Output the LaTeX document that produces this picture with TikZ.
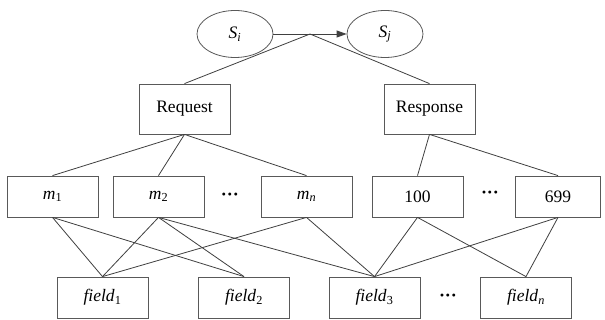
\documentclass[tikz,border=0pt]{standalone}
\usepackage{fontspec}
\setmainfont{Liberation Serif}
\newfontfamily\tnr{Liberation Serif}
\usetikzlibrary{shapes.geometric,arrows.meta}
\begin{document}
\begin{tikzpicture}[x=1pt,y=-1pt,
  line/.style={draw=black!75,line width=0.8pt},
  txt/.style={font=\tnr\fontsize{17.5}{19}\selectfont},
  box/.style={txt,draw=black!65,line width=0.8pt,rectangle,minimum width=91pt,minimum height=41pt,inner sep=0pt},
  bigbox/.style={box,minimum height=50pt},
  state/.style={txt,draw=black!65,line width=0.8pt,ellipse,minimum width=76pt,minimum height=47pt,inner sep=0pt},
  dots/.style={inner sep=0pt,font=\tnr\fontsize{18}{19}\selectfont\bfseries}]
\useasboundingbox (0,0) rectangle (605,320);
\fill[white] (0,0) rectangle (605,320);
% states
\node[state] (si) at (235,34) {\textit{S}\textsubscript{\textit{i}}};
\node[state] (sj) at (385,34) {\textit{S}\textsubscript{\textit{j}}};
% level 1
\node[bigbox] (req) at (184.5,109) {Request};
\node[bigbox] (res) at (429.5,109) {Response};
% level 2
\node[box] (m1) at (52.5,196.5) {\textit{m}\textsubscript{1}};
\node[box] (m2) at (158.5,196.5) {\textit{m}\textsubscript{2}};
\node[dots] (d1) at (230,197) {···};
\node[box] (mn) at (306.5,196.5) {\textit{m}\textsubscript{\textit{n}}};
\node[box] (c100) at (417.5,196.5) {100};
\node[dots] (d2) at (490,195) {···};
\node[box,minimum width=85pt] (c699) at (558,196.5) {699};
% level 3
\node[box] (f1) at (102.5,297.5) {\textit{field}\textsubscript{1}};
\node[box] (f2) at (244,297.5) {\textit{field}\textsubscript{2}};
\node[box] (f3) at (374.5,297.5) {\textit{field}\textsubscript{3}};
\node[dots] (d3) at (448,298) {···};
\node[box] (fn) at (526,297.5) {\textit{field}\textsubscript{\textit{n}}};
% arrow
\draw[line,-{Triangle[length=10pt,width=7pt]}] (si.east) -- coordinate[midway] (mid) (sj.west);
\draw[line] (mid) -- (req.north);
\draw[line] (mid) -- (res.north);
% request/response
\draw[line] (req.south) -- (m1.north);
\draw[line] (req.south) -- (m2.north);
\draw[line] (req.south) -- (mn.north);
\draw[line] (res.south) -- (c100.north);
\draw[line] (res.south) -- (c699.north);
% fields
\draw[line] (m1.south) -- (f1.north);
\draw[line] (m1.south) -- (f2.north);
\draw[line] (m2.south) -- (f1.north);
\draw[line] (m2.south) -- (f2.north);
\draw[line] (m2.south) -- (f3.north);
\draw[line] (mn.south) -- (f1.north);
\draw[line] (mn.south) -- (f3.north);
\draw[line] (c100.south) -- (f3.north);
\draw[line] (c100.south) -- (fn.north);
\draw[line] (c699.south) -- (f3.north);
\draw[line] (c699.south) -- (fn.north);
\end{tikzpicture}
\end{document}
